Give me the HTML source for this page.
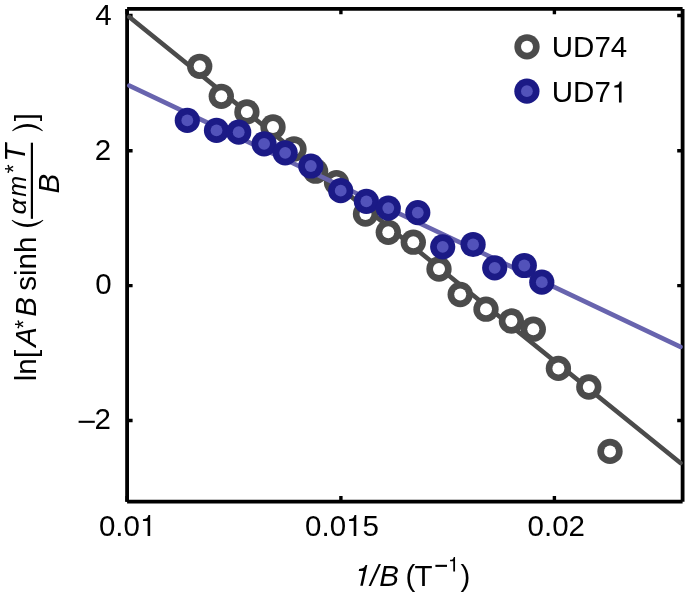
<!DOCTYPE html>
<html><head><meta charset="utf-8"><title>ln[A*B sinh(am*T/B)] vs 1/B</title><style>
html,body{margin:0;padding:0;background:#fff;width:685px;height:593px;overflow:hidden;}
svg{display:block;will-change:transform;}
text{font-family:"Liberation Sans",sans-serif;font-size:29.5px;fill:#000;}
</style></head><body>
<svg width="685" height="593" viewBox="0 0 685 593">
<path d="M127.1,15.55H132.6M682.6,15.55H677.2M127.1,150.75H132.6M682.6,150.75H677.2M127.1,285.65H132.6M682.6,285.65H677.2M127.1,420.55H132.6M682.6,420.55H677.2M127.1,501.7V496.0M127.1,8.9V14.2M340.9,501.7V496.0M340.9,8.9V14.2M554.4,501.7V496.0M554.4,8.9V14.2" stroke="#000" stroke-width="3.4" fill="none"/>
<path d="M127.1,8.9H682.6M682.6,8.9V501.7M682.6,501.7H127.1M127.1,501.7V8.9" stroke="#000" stroke-width="3.8" fill="none"/>
<line x1="129.3" y1="17.03" x2="680.5" y2="463.06" stroke="#4b4b4b" stroke-width="4.6" stroke-linecap="round"/>
<circle cx="199.7" cy="66.3" r="12.66" fill="#4b4b4b"/><circle cx="199.7" cy="66.3" r="6.00" fill="#fff"/>
<circle cx="221.3" cy="96.3" r="12.66" fill="#4b4b4b"/><circle cx="221.3" cy="96.3" r="6.00" fill="#fff"/>
<circle cx="246.9" cy="111.9" r="12.66" fill="#4b4b4b"/><circle cx="246.9" cy="111.9" r="6.00" fill="#fff"/>
<circle cx="273.0" cy="127.0" r="12.66" fill="#4b4b4b"/><circle cx="273.0" cy="127.0" r="6.00" fill="#fff"/>
<circle cx="294" cy="149" r="12.66" fill="#4b4b4b"/><circle cx="294" cy="149" r="6.00" fill="#fff"/>
<circle cx="315.6" cy="171.2" r="12.66" fill="#4b4b4b"/><circle cx="315.6" cy="171.2" r="6.00" fill="#fff"/>
<circle cx="336.5" cy="182.6" r="12.66" fill="#4b4b4b"/><circle cx="336.5" cy="182.6" r="6.00" fill="#fff"/>
<circle cx="365.5" cy="214.0" r="12.66" fill="#4b4b4b"/><circle cx="365.5" cy="214.0" r="6.00" fill="#fff"/>
<circle cx="388.3" cy="232.3" r="12.66" fill="#4b4b4b"/><circle cx="388.3" cy="232.3" r="6.00" fill="#fff"/>
<circle cx="413.3" cy="242.2" r="12.66" fill="#4b4b4b"/><circle cx="413.3" cy="242.2" r="6.00" fill="#fff"/>
<circle cx="439" cy="269" r="12.66" fill="#4b4b4b"/><circle cx="439" cy="269" r="6.00" fill="#fff"/>
<circle cx="460.2" cy="294.5" r="12.66" fill="#4b4b4b"/><circle cx="460.2" cy="294.5" r="6.00" fill="#fff"/>
<circle cx="486" cy="309.2" r="12.66" fill="#4b4b4b"/><circle cx="486" cy="309.2" r="6.00" fill="#fff"/>
<circle cx="511.4" cy="321.0" r="12.66" fill="#4b4b4b"/><circle cx="511.4" cy="321.0" r="6.00" fill="#fff"/>
<circle cx="533.3" cy="329.2" r="12.66" fill="#4b4b4b"/><circle cx="533.3" cy="329.2" r="6.00" fill="#fff"/>
<circle cx="558.4" cy="368.4" r="12.66" fill="#4b4b4b"/><circle cx="558.4" cy="368.4" r="6.00" fill="#fff"/>
<circle cx="588.8" cy="387" r="12.66" fill="#4b4b4b"/><circle cx="588.8" cy="387" r="6.00" fill="#fff"/>
<circle cx="610" cy="451.4" r="12.66" fill="#4b4b4b"/><circle cx="610" cy="451.4" r="6.00" fill="#fff"/>
<line x1="129.3" y1="85.57" x2="680.5" y2="346.95" stroke="#6864ae" stroke-width="4.6" stroke-linecap="round"/>
<circle cx="187.3" cy="120.4" r="12.60" fill="#1b1a86"/><circle cx="187.3" cy="120.4" r="5.90" fill="#5252ba"/>
<circle cx="216.5" cy="130.4" r="12.60" fill="#1b1a86"/><circle cx="216.5" cy="130.4" r="5.90" fill="#5252ba"/>
<circle cx="238.7" cy="132.2" r="12.60" fill="#1b1a86"/><circle cx="238.7" cy="132.2" r="5.90" fill="#5252ba"/>
<circle cx="264.1" cy="143.8" r="12.60" fill="#1b1a86"/><circle cx="264.1" cy="143.8" r="5.90" fill="#5252ba"/>
<circle cx="285.2" cy="152.8" r="12.60" fill="#1b1a86"/><circle cx="285.2" cy="152.8" r="5.90" fill="#5252ba"/>
<circle cx="310.8" cy="166" r="12.60" fill="#1b1a86"/><circle cx="310.8" cy="166" r="5.90" fill="#5252ba"/>
<circle cx="340.7" cy="190.7" r="12.60" fill="#1b1a86"/><circle cx="340.7" cy="190.7" r="5.90" fill="#5252ba"/>
<circle cx="366.4" cy="201.4" r="12.60" fill="#1b1a86"/><circle cx="366.4" cy="201.4" r="5.90" fill="#5252ba"/>
<circle cx="388.3" cy="208.1" r="12.60" fill="#1b1a86"/><circle cx="388.3" cy="208.1" r="5.90" fill="#5252ba"/>
<circle cx="417.8" cy="212.6" r="12.60" fill="#1b1a86"/><circle cx="417.8" cy="212.6" r="5.90" fill="#5252ba"/>
<circle cx="442.7" cy="246.8" r="12.60" fill="#1b1a86"/><circle cx="442.7" cy="246.8" r="5.90" fill="#5252ba"/>
<circle cx="473.1" cy="244.5" r="12.60" fill="#1b1a86"/><circle cx="473.1" cy="244.5" r="5.90" fill="#5252ba"/>
<circle cx="494.7" cy="267.8" r="12.60" fill="#1b1a86"/><circle cx="494.7" cy="267.8" r="5.90" fill="#5252ba"/>
<circle cx="524.3" cy="265.5" r="12.60" fill="#1b1a86"/><circle cx="524.3" cy="265.5" r="5.90" fill="#5252ba"/>
<circle cx="541.8" cy="282.2" r="12.60" fill="#1b1a86"/><circle cx="541.8" cy="282.2" r="5.90" fill="#5252ba"/>
<circle cx="527" cy="46.8" r="12.66" fill="#4b4b4b"/><circle cx="527" cy="46.8" r="6.00" fill="#fff"/>
<circle cx="526.9" cy="91.2" r="12.60" fill="#1b1a86"/><circle cx="526.9" cy="91.2" r="5.90" fill="#5252ba"/>
<text x="551.82" y="57">UD74</text>
<text x="551.82" y="102.4">UD7</text>
<path transform="translate(611.32,102.4) scale(0.0295,-0.0295)" d="M259 505H102V568Q204 581 235 604Q266 627 289 709H347V0H259Z"/>
<rect x="78.6" y="420.75" width="16.2" height="2.1"/>
<text x="95.22" y="24.5">4</text>
<text x="94.72" y="159.6">2</text>
<text x="95.15" y="294.2">0</text>
<text x="94.42" y="429.2">2</text>
<text x="98.95" y="536">0.0</text>
<path transform="translate(139.95,536) scale(0.0295,-0.0295)" d="M259 505H102V568Q204 581 235 604Q266 627 289 709H347V0H259Z"/>
<text x="305.05" y="536">0.0</text>
<path transform="translate(346.05,536) scale(0.0295,-0.0295)" d="M259 505H102V568Q204 581 235 604Q266 627 289 709H347V0H259Z"/>
<text x="362.45" y="536">5</text>
<text x="527.55" y="536">0.02</text>
<path transform="translate(352.6,585.8) scale(0.0295,-0.0295)" d="M367 505H208L221 568Q329 583 364.5 605.5Q400 628 440 709H498L347 0H259Z"/>
<text x="370.37" y="585.8" font-style="italic">/</text>
<text x="379.19" y="585.8" font-style="italic">B</text>
<text x="405.57" y="585.8">(</text>
<text x="414.44" y="585.8">T</text>
<rect x="435.4" y="564.8" width="11.6" height="2.1"/>
<path transform="translate(448,571.4) scale(0.0203,-0.0203)" d="M259 505H102V568Q204 581 235 604Q266 627 289 709H347V0H259Z"/>
<text x="460.43" y="585.8">)</text>
<g transform="rotate(-90)"><text x="-381.19" y="36">ln</text><text x="-358.1" y="36">[</text><text x="-346.75" y="36" font-style="italic">A</text><text x="-328.67" y="32" style="font-size:23px">*</text><text x="-316.71" y="36" font-style="italic">B</text><text x="-290.82" y="36">sinh</text><text x="-196.72" y="25.6" font-style="italic" style="font-size:25px">m</text><text x="-173.27" y="21.6" style="font-size:23px">*</text><text x="-161.65" y="25" font-style="italic">T</text><text x="-193.51" y="59.4" font-style="italic">B</text><text x="-121.23" y="36">]</text><text transform="scale(1.12,1)" x="-191.55" y="25.8" font-style="italic" style="font-size:24.5px">α</text></g>
<path d="M11.7,220.4A22.45,22.45 0 0 0 43.3,220.4L43.0,219.8A29.5,29.5 0 0 1 12.0,219.8Z"/>
<path d="M12.2,130.6A21.03,21.03 0 0 1 42.8,130.6L42.4,131.2A26.9,26.9 0 0 0 12.6,131.2Z"/>
<rect x="30.8" y="142.7" width="2.2" height="76.1"/>
</svg>
</body></html>
